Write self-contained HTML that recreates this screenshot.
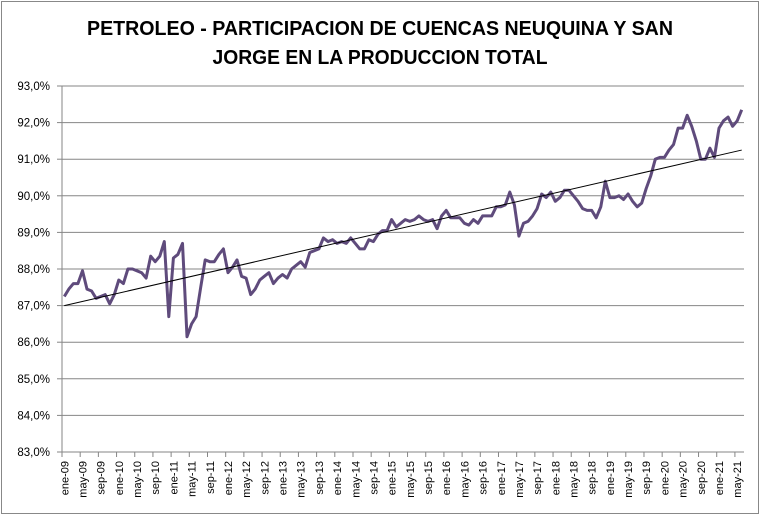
<!DOCTYPE html>
<html><head><meta charset="utf-8"><style>
html,body{margin:0;padding:0;background:#fff;}
svg{display:block;font-family:"Liberation Sans",sans-serif;}
</style></head><body>
<svg id="s" width="761" height="517" xmlns="http://www.w3.org/2000/svg">
<rect x="1.5" y="1.5" width="757" height="512" fill="#fff" stroke="#888" stroke-width="1"/>
<text x="380" y="35" text-anchor="middle" font-size="20" font-weight="bold" textLength="586" lengthAdjust="spacingAndGlyphs">PETROLEO - PARTICIPACION DE CUENCAS NEUQUINA Y SAN</text>
<text x="380" y="64" text-anchor="middle" font-size="20" font-weight="bold" textLength="335" lengthAdjust="spacingAndGlyphs">JORGE EN LA PRODUCCION TOTAL</text>
<g id="g"></g>
</svg>
<script>
var g=document.getElementById('g'),ns='http://www.w3.org/2000/svg',h='';
var X0=62,X1=744,Y93=86,Y83=452,py=(Y83-Y93)/10;
function Y(v){return Y93+(93-v)*py;}
for(var k=0;k<=10;k++){var y=Y93+k*py;
 h+='<line x1="'+X0+'" x2="'+X1+'" y1="'+y+'" y2="'+y+'" stroke="#868686" stroke-width="1"/>';
 h+='<line x1="'+(X0-5)+'" x2="'+X0+'" y1="'+y+'" y2="'+y+'" stroke="#868686"/>';
 h+='<text x="'+(X0-12)+'" y="'+(y+4)+'" font-size="11.5" text-anchor="end">'+(93-k)+',0%</text>';}
h+='<line x1="'+X0+'" x2="'+X0+'" y1="'+Y93+'" y2="'+(Y83+5)+'" stroke="#868686"/>';
var N=150,dx=(X1-X0)/N,mn=['ene','may','sep'];
for(var i=0;i<=N;i+=4){var x=X0+i*dx;
 h+='<line x1="'+x+'" x2="'+x+'" y1="'+Y83+'" y2="'+(Y83+5)+'" stroke="#868686"/>';
 if(i<N){var yr=9+Math.floor(i/12);var lab=mn[(i%12)/4]+'-'+(yr<10?'0'+yr:yr);
 h+='<text transform="translate('+(x+dx*0.5+4)+','+(Y83+9)+') rotate(-90)" font-size="11" text-anchor="end">'+lab+'</text>';}}
var d=[87.25,87.45,87.6,87.6,87.95,87.45,87.4,87.2,87.25,87.3,87.05,87.3,
87.7,87.6,88.0,88.0,87.95,87.9,87.75,88.35,88.2,88.35,88.75,86.7,
88.3,88.4,88.7,86.15,86.5,86.7,87.5,88.25,88.2,88.2,88.4,88.55,
87.9,88.05,88.25,87.8,87.75,87.3,87.45,87.7,87.8,87.9,87.6,87.75,
87.85,87.75,88.0,88.1,88.2,88.05,88.45,88.5,88.55,88.85,88.75,88.8,
88.7,88.75,88.7,88.85,88.7,88.55,88.55,88.8,88.75,88.95,89.05,89.05,
89.35,89.15,89.25,89.35,89.3,89.35,89.45,89.35,89.3,89.35,89.1,89.45,
89.6,89.4,89.4,89.4,89.25,89.2,89.35,89.25,89.45,89.45,89.45,89.7,
89.7,89.75,90.1,89.75,88.9,89.25,89.3,89.45,89.65,90.05,89.95,90.1,
89.85,89.95,90.15,90.15,90.0,89.85,89.65,89.6,89.6,89.4,89.7,90.4,
89.95,89.95,90.0,89.9,90.05,89.85,89.7,89.8,90.2,90.55,91.0,91.05,
91.05,91.25,91.4,91.85,91.85,92.2,91.9,91.5,91.0,91.0,91.3,91.05,
91.85,92.05,92.15,91.9,92.05,92.35];
var p=[];for(var i=0;i<d.length;i++)p.push((X0+(i+0.5)*dx).toFixed(1)+','+Y(d[i]).toFixed(1));
h+='<polyline points="'+p.join(' ')+'" fill="none" stroke="#5F4B7C" stroke-width="3" stroke-linejoin="round"/>';
h+='<line x1="'+(X0+0.5*dx)+'" y1="'+Y(87.0)+'" x2="'+(X0+(d.length-0.5)*dx)+'" y2="'+Y(91.25)+'" stroke="#000" stroke-width="1"/>';
g.innerHTML=h;
</script>
</body></html>
